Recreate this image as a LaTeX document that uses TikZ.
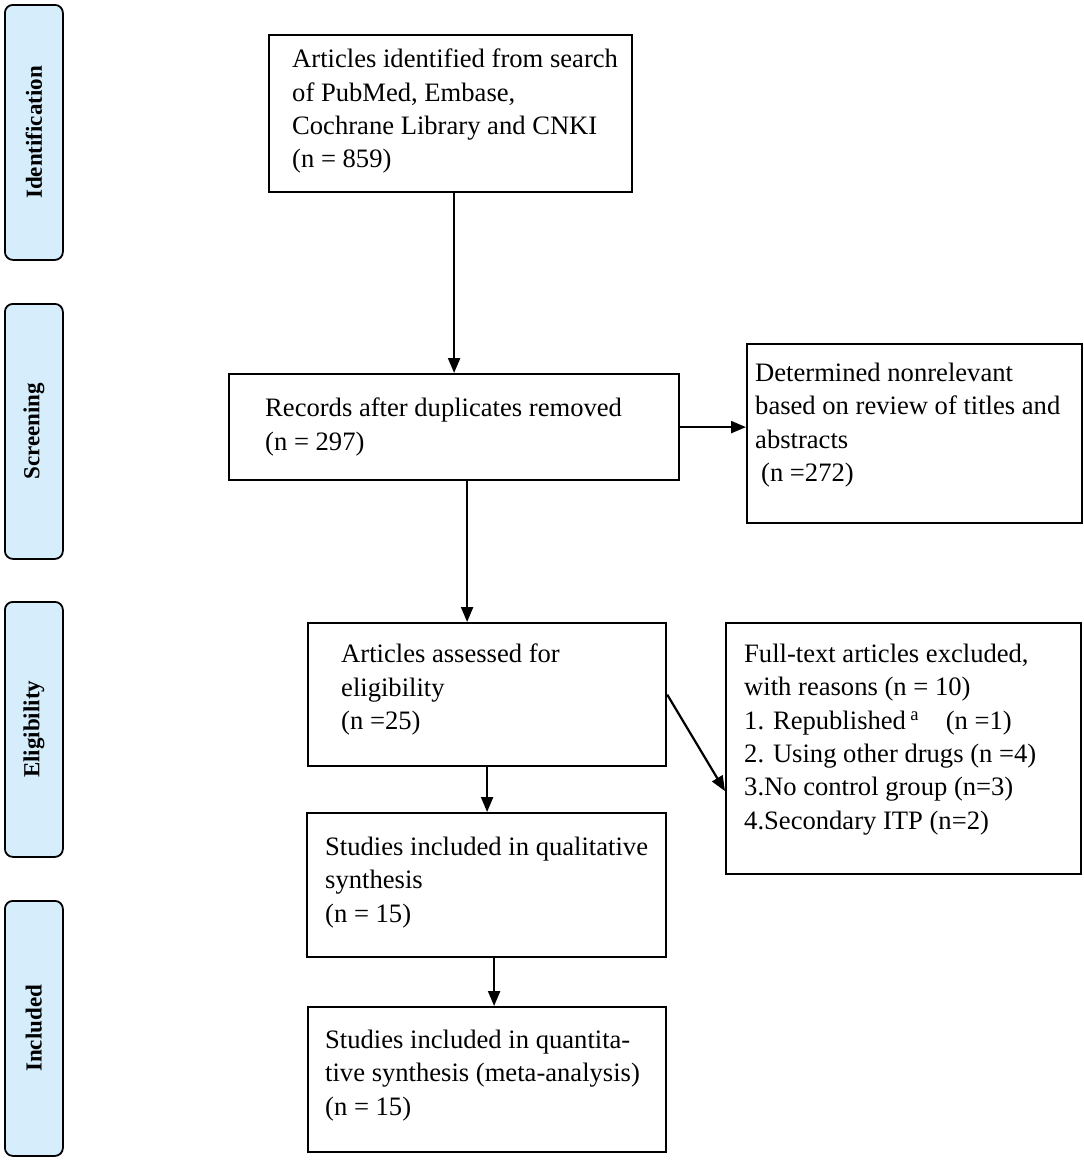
\documentclass[tikz,border=0pt]{standalone}
\usepackage{fontspec}
\setmainfont{Liberation Serif}
\usetikzlibrary{arrows.meta,calc}
\definecolor{sidefill}{RGB}{214,237,252}
\begin{document}
\begin{tikzpicture}[x=1pt,y=-1pt,
  box/.style={draw=black,line width=2.2pt,inner sep=0pt,anchor=north west},
  side/.style={draw=black,line width=1.8pt,fill=sidefill,rounded corners=8pt,inner sep=0pt,anchor=north west,minimum width=58pt,minimum height=255pt},
  sidetxt/.style={rotate=90,font=\fontsize{23}{26}\selectfont\bfseries},
  txt/.style={align=left,anchor=north west,inner sep=0pt,font=\fontsize{26.6}{33.3}\selectfont},
  arr/.style={line width=2.2pt,-{Triangle[length=15pt,width=12pt]}}]
\useasboundingbox (0,0) rectangle (1084,1163);
% side labels
\node[side] (s1) at (4,4) {};
\node[sidetxt] (s1t) at (s1.center) {Identification};
\node[side] (s2) at (4,303) {};
\node[sidetxt] (s2t) at (s2.center) {Screening};
\node[side] (s3) at (4,601) {};
\node[sidetxt] (s3t) at (s3.center) {Eligibility};
\node[side] (s4) at (4,900) {};
\node[sidetxt] (s4t) at (s4.center) {Included};
% boxes
\node[box,minimum width=363pt,minimum height=157pt] (b1) at (268,34) {};
\node[txt] (t1) at (292,49) {Articles identified from search\\of PubMed, Embase,\\Cochrane Library and CNKI\\(n = 859)};
\node[box,minimum width=450pt,minimum height=106pt] (b2) at (228,373) {};
\node[txt] (t2) at (265,398) {Records after duplicates removed\\(n = 297)};
\node[box,minimum width=335pt,minimum height=179pt] (b3) at (746,343) {};
\node[txt] (t3) at (755,363) {Determined nonrelevant\\based on review of titles and\\abstracts\\\hspace*{6pt}(n =272)};
\node[box,minimum width=358pt,minimum height=143pt] (b4) at (307,622) {};
\node[txt] (t4) at (341,644) {Articles assessed for\\eligibility\\(n =25)};
\node[box,minimum width=355pt,minimum height=251pt] (b5) at (725,622) {};
\node[txt] (t5) at (744,644) {Full-text articles excluded,\\with reasons (n = 10)\\1. Republished\,\textsuperscript{a}\quad(n =1)\\2. Using other drugs (n =4)\\3.No control group (n=3)\\4.Secondary ITP (n=2)};
\node[box,minimum width=359pt,minimum height=144pt] (b6) at (306,812) {};
\node[txt] (t6) at (325,837) {Studies included in qualitative\\synthesis\\(n = 15)};
\node[box,minimum width=358pt,minimum height=145pt] (b7) at (307,1006) {};
\node[txt] (t7) at (325,1030) {Studies included in quantita-\\tive synthesis (meta-analysis)\\(n = 15)};
% arrows
\draw[arr] ([xshift=3.5pt]b1.south) -- ([xshift=3.5pt]b1.south |- b2.north);
\draw[arr] (b2.east) -- (b2.east -| b3.west);
\draw[arr] ([xshift=13pt]b2.south) -- ([xshift=13pt]b2.south |- b4.north);
\draw[arr] (b4.east) -- ([yshift=-42.5pt]b5.west);
\draw[arr] (b4.south) -- (b4.south |- b6.north);
\draw[arr] ([xshift=7.5pt]b6.south) -- ([xshift=7.5pt]b6.south |- b7.north);
\end{tikzpicture}
\end{document}
